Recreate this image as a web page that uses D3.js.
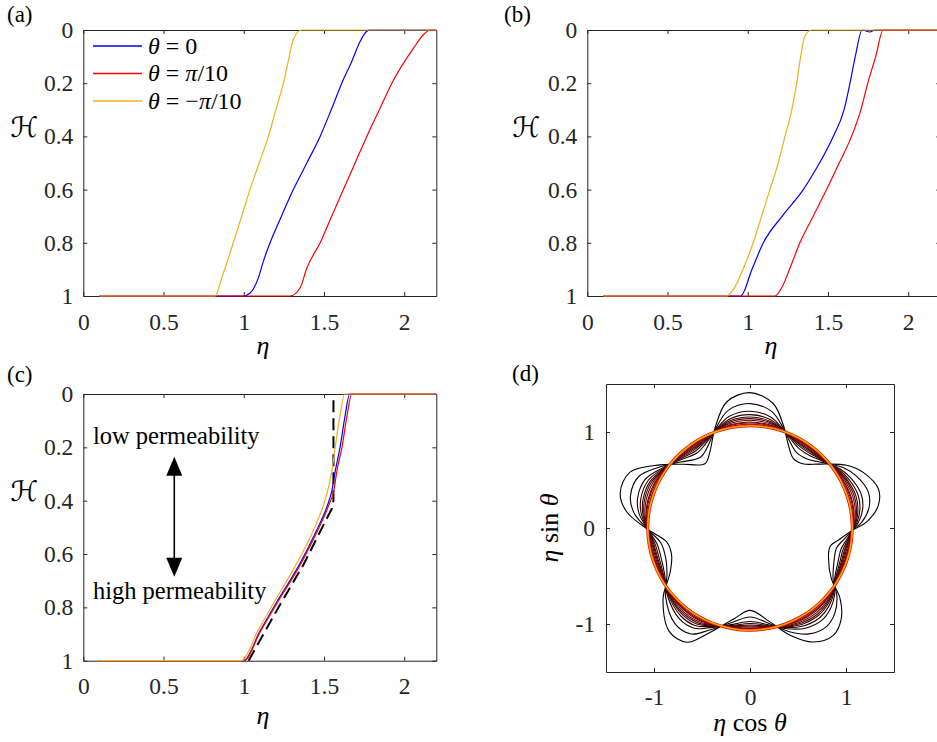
<!DOCTYPE html>
<html lang="en">
<head>
<meta charset="utf-8">
<script src="https://cdn.jsdelivr.net/npm/d3@7"></script>
<style>
  body { margin: 0; background: #fff; }
  svg text { font-family: "Liberation Serif", "Times New Roman", serif; fill: #262626; }
</style>
</head>
<body>
<script>
"use strict";

// ---- ticks ----
const etaTicks = [0, 0.5, 1, 1.5, 2];
const etaTickLabels = ["0", "0.5", "1", "1.5", "2"];
const hTicks = [0, 0.2, 0.4, 0.6, 0.8, 1];
const hTickLabels = ["0", "0.2", "0.4", "0.6", "0.8", "1"];
const xyTicks = [-1, 0, 1];
const xyTickLabels = ["-1", "0", "1"];

// ---- legend (a) ----
const legendLabels = [
  [["θ", 1], [" = 0", 0]],
  [["θ", 1], [" = ", 0], ["π", 1], ["/10", 0]],
  [["θ", 1], [" = −", 0], ["π", 1], ["/10", 0]]
];
const seriesColors = ["#0000ff", "#ff0000", "#edb120"];

// ---- panel (a): [eta, H] ----
const aTheta0 = [[0.1,1],[0.998,1],[1.04,0.989],[1.091,0.932],[1.122,0.87],[1.164,0.8],[1.235,0.7],[1.309,0.6],[1.393,0.5],[1.476,0.4],[1.545,0.3],[1.611,0.2],[1.673,0.118],[1.725,0.043],[1.767,0.005],[1.787,0],[2.2,0]];
const aThetaPlus = [[0.1,1],[1.289,1],[1.351,0.97],[1.393,0.895],[1.476,0.8],[1.548,0.7],[1.621,0.6],[1.694,0.5],[1.767,0.4],[1.845,0.3],[1.923,0.2],[2.058,0.068],[2.12,0.018],[2.162,0],[2.2,0]];
const aThetaMinus = [[0.1,1],[0.821,1],[0.863,0.932],[0.935,0.8],[0.987,0.7],[1.039,0.6],[1.096,0.5],[1.154,0.4],[1.2,0.3],[1.247,0.2],[1.28,0.11],[1.309,0.036],[1.361,0],[2.2,0]];

// ---- panel (b) ----
const bTheta0 = [[0.1,1],[0.956,1],[1.026,0.9],[1.097,0.8],[1.221,0.695],[1.346,0.6],[1.429,0.519],[1.533,0.4],[1.6,0.3],[1.637,0.2],[1.67,0.1],[1.713,0],[1.761,0.0075],[1.792,0],[2.2,0]];
const bThetaPlus = [[0.1,1],[1.169,1],[1.211,0.97],[1.26,0.9],[1.325,0.8],[1.408,0.7],[1.491,0.6],[1.57,0.5],[1.647,0.4],[1.705,0.3],[1.748,0.2],[1.797,0.1],[1.844,0],[2.2,0]];
const bThetaMinus = [[0.1,1],[0.868,1],[0.91,0.976],[0.97,0.9],[1.034,0.8],[1.086,0.7],[1.138,0.6],[1.19,0.5],[1.232,0.4],[1.273,0.305],[1.305,0.2],[1.325,0.118],[1.356,0.023],[1.398,0],[2.2,0]];

// ---- panel (c) ----
const cTheta0 = [[0.1,1],[1.0,1],[1.1,0.89],[1.206,0.78],[1.351,0.635],[1.455,0.51],[1.52,0.42],[1.55,0.36],[1.57,0.29],[1.6,0.2],[1.632,0.08],[1.66,0],[2.2,0]];
const cThetaPlus = [[0.1,1],[1.0,1],[1.104,0.89],[1.212,0.78],[1.357,0.635],[1.462,0.51],[1.528,0.42],[1.562,0.36],[1.58,0.29],[1.612,0.2],[1.644,0.08],[1.673,0],[2.2,0]];
const cThetaMinus = [[0.1,1],[0.985,1],[1.09,0.885],[1.185,0.785],[1.33,0.635],[1.435,0.51],[1.5,0.41],[1.53,0.345],[1.549,0.29],[1.57,0.2],[1.6,0.08],[1.628,0],[2.2,0]];
const cLimit = [[1.03,1],[1.226,0.79],[1.372,0.64],[1.476,0.516],[1.549,0.43],[1.559,0.40],[1.559,0]];

// ---- panel (d): outer contour (angle deg, radius), circle, lobe peak of each contour ----
const outerAngles = [-90,-78,-69.5,-61,-52,-45,-38,-32,-21,-13,-7,-1,3,10,17,26,33,40,43.5,50,58,65,72,79.5,90,100.5,109.5,118,125,136.5,145,155,165,172.5,181,189.5,199,209,219,232,241,248,260];
const outerRadii = [0.858,1.0,1.193,1.358,1.415,1.343,1.19,1.0,0.876,0.856,0.944,1.076,1.217,1.357,1.398,1.316,1.2,1.036,0.966,0.871,0.852,0.949,1.125,1.319,1.41,1.335,1.097,0.893,0.818,0.965,1.147,1.379,1.4,1.296,1.06,0.88,0.864,0.951,1.165,1.367,1.36,1.19,0.96];
const circleRadius = 1.065;
const contourPeaks = [1.41, 1.296, 1.216, 1.181, 1.156, 1.139, 1.122, 1.104, 1.094, 1.08];

const svg = d3.select("body").append("svg").attr("width", 937).attr("height", 742);

function makePanel(box, xDom, yDom, xt, xl, yt, yl, padX, padY) {
  const x = d3.scaleLinear().domain(xDom).range([box.left, box.left + box.width]);
  const y = d3.scaleLinear().domain(yDom).range([box.top, box.top + box.height]);
  const g = svg.append("g");
  const bottom = box.top + box.height, right = box.left + box.width;
  g.append("g").attr("transform", `translate(0,${bottom})`)
    .call(d3.axisBottom(x).tickValues(xt).tickFormat((d, i) => xl[i]).tickSizeInner(-4).tickSizeOuter(0).tickPadding(padX));
  g.append("g").attr("transform", `translate(0,${box.top})`)
    .call(d3.axisTop(x).tickValues(xt).tickFormat("").tickSizeInner(-4).tickSizeOuter(0));
  g.append("g").attr("transform", `translate(${box.left},0)`)
    .call(d3.axisLeft(y).tickValues(yt).tickFormat((d, i) => yl[i]).tickSizeInner(-4).tickSizeOuter(0).tickPadding(padY));
  g.append("g").attr("transform", `translate(${right},0)`)
    .call(d3.axisRight(y).tickValues(yt).tickFormat("").tickSizeInner(-4).tickSizeOuter(0));
  g.selectAll(".domain, .tick line").attr("stroke", "#262626").attr("stroke-width", 1);
  g.selectAll("g").attr("font-family", null).attr("font-size", null);
  g.selectAll(".tick text").style("font-size", "23.5px").attr("fill", "#262626");
  const plot = g.append("g");
  return { g, plot, x, y };
}

function mathText(x, y, parts, size, anchor, rot) {
  const t = svg.append("text")
    .attr("transform", `translate(${x},${y})` + (rot ? ` rotate(${rot})` : ""))
    .attr("text-anchor", anchor || "start")
    .style("font-size", size + "px");
  parts.forEach(p => {
    t.append("tspan").text(p[0]).attr("font-style", p[1] ? "italic" : "normal");
  });
  return t;
}

function drawCurves(p, list, width) {
  const line = d3.line().x(d => p.x(d[0])).y(d => p.y(d[1])).curve(d3.curveMonotoneX);
  list.forEach((s, i) => {
    p.plot.append("path").datum(s).attr("d", line)
      .attr("fill", "none").attr("stroke", seriesColors[i]).attr("stroke-width", width)
      .attr("stroke-linejoin", "round");
  });
}

function scriptH(x, y) {
  svg.append("text").attr("x", x).attr("y", y).attr("text-anchor", "middle")
    .attr("font-style", "italic")
    .style("font-size", "28px")
    .style("font-family", "'DejaVu Serif', 'DejaVu Sans', serif")
    .style("fill", "#000")
    .text("ℋ");
}

// ---- (a) ----
const pa = makePanel({ left: 83.3, top: 30, width: 353, height: 266 }, [0, 2.2], [0, 1],
  etaTicks, etaTickLabels, hTicks, hTickLabels, 17, 10);
drawCurves(pa, [aTheta0, aThetaPlus, aThetaMinus], 1.2);
legendLabels.forEach((lab, i) => {
  const ly = 46 + i * 27.5;
  svg.append("line").attr("x1", 93).attr("x2", 142).attr("y1", ly).attr("y2", ly)
    .style("stroke", seriesColors[i]).attr("stroke-width", 1.3);
  mathText(148, ly + 7.5, lab, 24).style("fill", "#000");
});
mathText(7, 22, [["(a)", 0]], 23).style("fill", "#000");
scriptH(24, 137);
mathText(263, 354, [["η", 1]], 26, "middle").style("fill", "#000");

// ---- (b) ----
const pb = makePanel({ left: 587.3, top: 30, width: 353, height: 266 }, [0, 2.2], [0, 1],
  etaTicks, etaTickLabels, hTicks, hTickLabels, 17, 10);
drawCurves(pb, [bTheta0, bThetaPlus, bThetaMinus], 1.2);
mathText(504, 22, [["(b)", 0]], 23).style("fill", "#000");
scriptH(526, 137);
mathText(771, 354, [["η", 1]], 26, "middle").style("fill", "#000");

// ---- (c) ----
const pc = makePanel({ left: 83.3, top: 394, width: 353, height: 266.7 }, [0, 2.2], [0, 1],
  etaTicks, etaTickLabels, hTicks, hTickLabels, 17, 10);
pc.plot.append("path").datum(cLimit)
  .attr("d", d3.line().x(d => pc.x(d[0])).y(d => pc.y(d[1])))
  .attr("fill", "none").attr("stroke", "#000").attr("stroke-width", 2)
  .attr("stroke-dasharray", "12,6");
drawCurves(pc, [cTheta0, cThetaPlus, cThetaMinus], 1.2);
// arrow between the two labels
{
  const ax = pc.x(0.567), y1 = pc.y(0.235), y2 = pc.y(0.685);
  const hl = 19, hw = 8;
  pc.plot.append("line").attr("x1", ax).attr("x2", ax).attr("y1", y1 + hl - 2).attr("y2", y2 - hl + 2)
    .attr("stroke", "#000").attr("stroke-width", 1.6);
  pc.plot.append("path").attr("d", `M${ax},${y1}L${ax - hw},${y1 + hl}L${ax + hw},${y1 + hl}Z`).attr("fill", "#000");
  pc.plot.append("path").attr("d", `M${ax},${y2}L${ax - hw},${y2 - hl}L${ax + hw},${y2 - hl}Z`).attr("fill", "#000");
}
svg.append("text").attr("x", pc.x(0.06)).attr("y", pc.y(0.186)).style("font-size", "24.5px").style("fill", "#000").text("low permeability");
svg.append("text").attr("x", pc.x(0.06)).attr("y", pc.y(0.767)).style("font-size", "24.5px").style("fill", "#000").text("high permeability");
mathText(7, 382, [["(c)", 0]], 23).style("fill", "#000");
scriptH(24, 501);
mathText(263, 724, [["η", 1]], 26, "middle").style("fill", "#000");

// ---- (d) ----
const pd = makePanel({ left: 606, top: 384, width: 288, height: 288 }, [-1.5, 1.5], [1.5, -1.5],
  xyTicks, xyTickLabels, xyTicks, xyTickLabels, 16, 11);
const outerPts = outerAngles.map((a, i) => [a * Math.PI / 180, outerRadii[i]]);
const polar = d3.line()
  .x(d => pd.x(d[1] * Math.cos(d[0])))
  .y(d => pd.y(d[1] * Math.sin(d[0])))
  .curve(d3.curveCatmullRomClosed.alpha(0.5));
const peak0 = contourPeaks[0];
contourPeaks.forEach((pk, k) => {
  const f = (pk - circleRadius) / (peak0 - circleRadius);
  const pts = outerPts.map(d => [d[0], circleRadius + f * (d[1] - circleRadius)]);
  pd.plot.append("path").datum(pts).attr("d", polar)
    .attr("fill", "none").attr("stroke", d3.interpolateRgb("#000000", "#8a0000")(k / (contourPeaks.length - 1)))
    .attr("stroke-width", 1.1);
});
const circlePts = outerAngles.map(a => [a * Math.PI / 180, circleRadius]);
pd.plot.append("path").datum(circlePts).attr("d", polar)
  .attr("fill", "none").attr("stroke", "#d81000").attr("stroke-width", 3);
pd.plot.append("path").datum(circlePts).attr("d", polar)
  .attr("fill", "none").attr("stroke", "#ffa000").attr("stroke-width", 1.6);
mathText(512, 381, [["(d)", 0]], 23).style("fill", "#000");
mathText(750, 731, [["η", 1], [" cos ", 0], ["θ", 1]], 26, "middle").style("fill", "#000");
mathText(558, 528, [["η", 1], [" sin ", 0], ["θ", 1]], 26, "middle", -90).style("fill", "#000");
</script>
</body>
</html>
